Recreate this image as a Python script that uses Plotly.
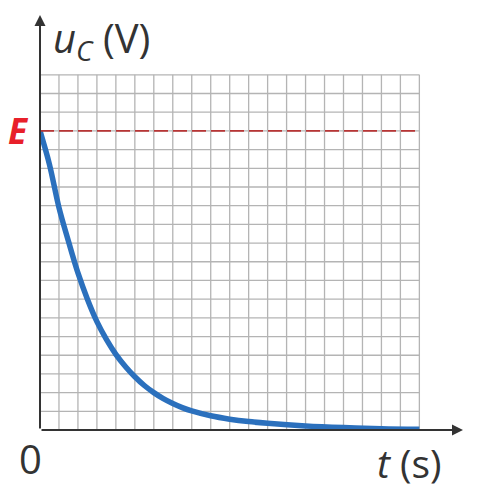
import plotly.graph_objects as go

# values (grid units)
t_vals = [0, 0.5, 1, 1.5, 2, 2.5, 3, 3.5, 4, 4.5, 5, 5.5, 6, 6.5, 7, 7.5, 8,
          9, 10, 11, 12, 14, 16, 18, 20]
u_vals = [16, 14.2, 11.9, 10.1, 8.4, 7.0, 5.8, 4.85, 4.05, 3.4, 2.85, 2.38,
          2.0, 1.68, 1.42, 1.2, 1.02, 0.76, 0.58, 0.45, 0.36, 0.22, 0.13,
          0.07, 0.04]
E = 16
n_cols = 20
n_rows = 19
x_end = 22.3
y_end = 22.2

grid_color = '#b4b4b4'
axis_color = '#333333'
font = 'Open Sans'

fig = go.Figure()

shapes = []
for i in range(1, n_cols + 1):
    shapes.append(dict(type='line', x0=i, x1=i, y0=0, y1=n_rows,
                       line=dict(color=grid_color, width=1.3), layer='below'))
for j in range(1, n_rows + 1):
    shapes.append(dict(type='line', x0=0, x1=n_cols, y0=j, y1=j,
                       line=dict(color=grid_color, width=1.3), layer='below'))
shapes.append(dict(type='line', x0=0, x1=n_cols, y0=E, y1=E,
                   line=dict(color='#b83535', width=1.6, dash='14px,5px')))

fig.add_trace(go.Scatter(x=t_vals, y=u_vals, mode='lines',
                         line=dict(color='#2b70bd', width=5.5,
                                   shape='spline', smoothing=1.0),
                         hoverinfo='skip'))

annotations = [
    # axes with arrowheads
    dict(x=x_end, y=0, ax=0, ay=0, xref='x', yref='y', axref='x', ayref='y',
         showarrow=True, arrowhead=2, arrowsize=1.1, arrowwidth=2,
         arrowcolor=axis_color, text=''),
    dict(x=0, y=y_end, ax=0, ay=0, xref='x', yref='y', axref='x', ayref='y',
         showarrow=True, arrowhead=2, arrowsize=1.1, arrowwidth=2,
         arrowcolor=axis_color, text=''),
    dict(x=0.6, y=20.9, xref='x', yref='y', xanchor='left', yanchor='middle',
         showarrow=False,
         text='<i>u</i><sub><i>C</i></sub> (V)',
         font=dict(family=font, size=40, color=axis_color)),
    dict(x=0, y=E, xref='x', yref='y', xanchor='right', yanchor='middle',
         xshift=-9, showarrow=False, text='<b><i>E</i></b>',
         font=dict(family=font, size=35, color='#e8202a')),
    dict(x=0, y=0, xref='x', yref='y', xanchor='center', yanchor='middle',
         xshift=-10, yshift=-28, showarrow=False, text='0',
         font=dict(family=font, size=40, color=axis_color)),
    dict(x=19.5, y=0, xref='x', yref='y', xanchor='center', yanchor='middle',
         yshift=-32, showarrow=False, text='<i>t</i> (s)',
         font=dict(family=font, size=39, color=axis_color)),
]

fig.update_layout(
    width=493, height=497,
    margin=dict(l=32, r=38, t=7, b=75),
    paper_bgcolor='white', plot_bgcolor='white',
    showlegend=False,
    shapes=shapes,
    annotations=annotations,
    xaxis=dict(range=[0, x_end], showgrid=False, zeroline=False,
               showticklabels=False, ticks='', fixedrange=True),
    yaxis=dict(range=[0, y_end], showgrid=False, zeroline=False,
               showticklabels=False, ticks='', fixedrange=True),
)

fig.write_html('out.html')
